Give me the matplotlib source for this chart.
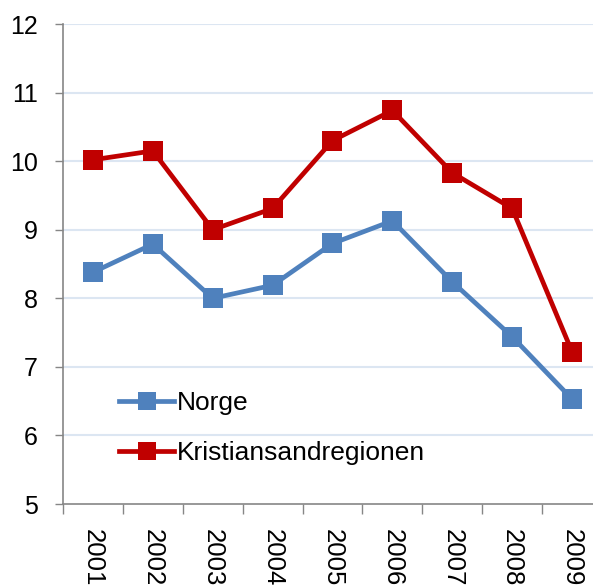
import numpy as np
import matplotlib
matplotlib.use("Agg")
import matplotlib.pyplot as plt

# Data
years = ["2001", "2002", "2003", "2004", "2005", "2006", "2007", "2008", "2009"]
norge = [8.38, 8.79, 8.00, 8.19, 8.80, 9.13, 8.24, 7.44, 6.53]
kristiansand = [10.02, 10.15, 9.00, 9.31, 10.30, 10.74, 9.83, 9.31, 7.22]

plt.rcParams["font.family"] = ["Liberation Sans", "DejaVu Sans"]

fig = plt.figure(figsize=(5.93, 5.86), dpi=100)
ax = fig.add_axes([0.1062, 0.1399, 0.909, 0.8191])

x = np.arange(len(years)) + 0.5
ax.plot(x, norge, color="#4F81BD", lw=3.4, marker="s", ms=15, mew=0,
        label="Norge", zorder=3)
ax.plot(x, kristiansand, color="#C00000", lw=3.4, marker="s", ms=15, mew=0,
        label="Kristiansandregionen", zorder=3)

ax.set_xlim(0, len(years))
ax.set_ylim(5, 12)
ax.set_yticks(range(5, 13))
ax.set_xticks(range(len(years) + 1))
ax.set_xticklabels([])
ax.set_xticks(x, minor=True)
ax.set_xticklabels(years, minor=True, rotation=-90, fontsize=18.5, va="top")
ax.tick_params(axis="x", which="minor", length=0, pad=18)
ax.tick_params(axis="x", which="major", length=7, width=1, color="#868686",
               direction="out")
ax.tick_params(axis="y", length=6, width=1, color="#868686", labelsize=18,
               pad=12)

for v in range(6, 13):
    ax.axhline(v, color="#DCE6F2", lw=1.5, zorder=1)

for s in ["top", "right"]:
    ax.spines[s].set_visible(False)
for s in ["left", "bottom"]:
    ax.spines[s].set_color("#868686")
    ax.spines[s].set_linewidth(1.2)

leg = ax.legend(loc="upper left", bbox_to_anchor=(0.06, 0.285), frameon=False,
                fontsize=19, handlelength=2.1, handletextpad=0.1,
                labelspacing=1.0, markerscale=0.85)

fig.savefig("out.png", dpi=100)
